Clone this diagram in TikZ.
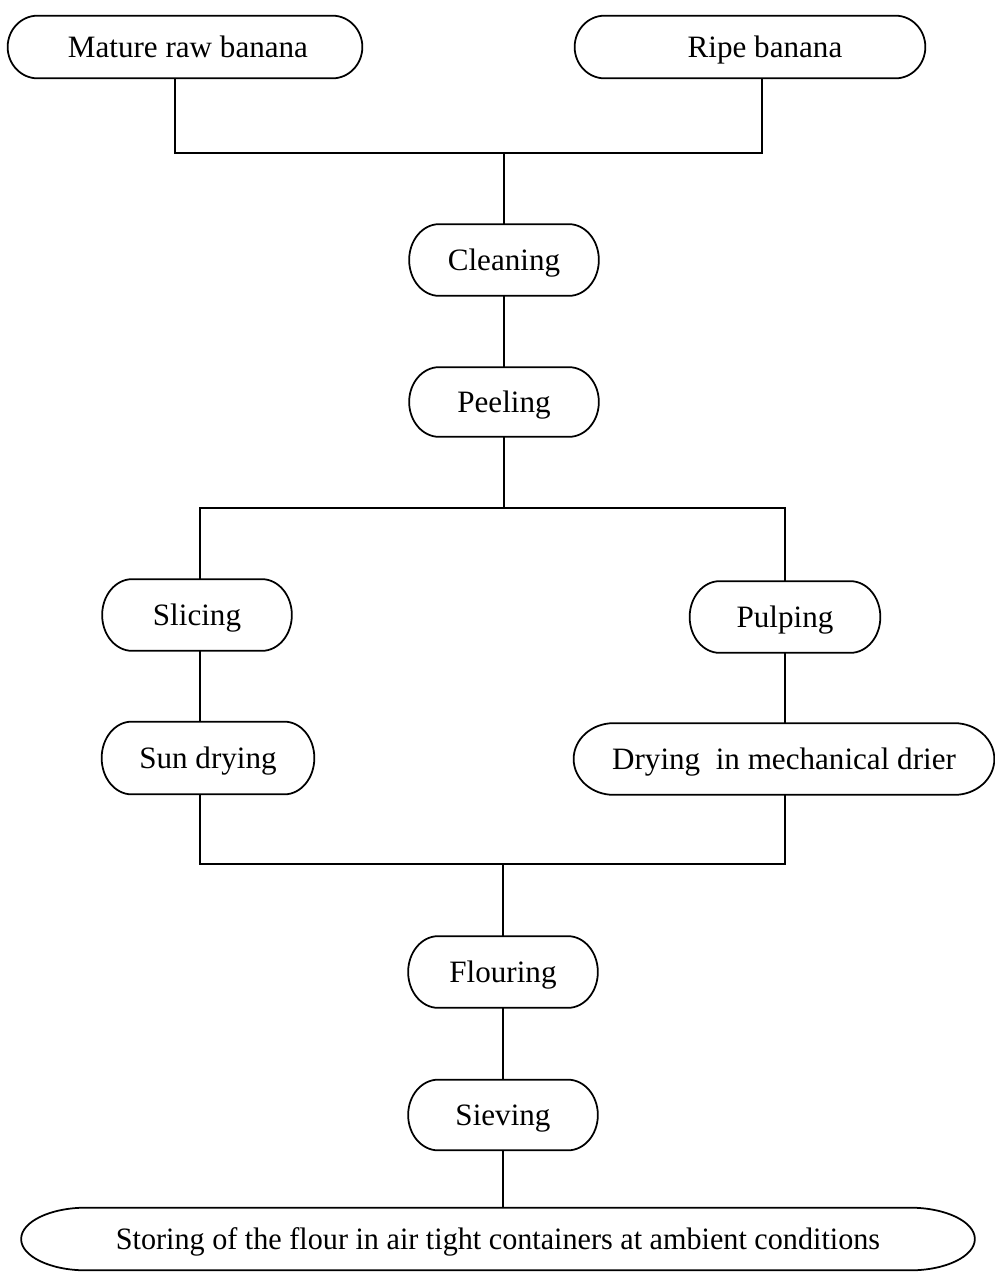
\documentclass[tikz,border=0pt]{standalone}
\usepackage{fontspec}
\setmainfont{Liberation Serif}
\usepackage{tikz}
\usetikzlibrary{calc,positioning}
\tikzset{
    stage/.style={
        rectangle,
        inner sep=0pt,
        text centered,
        text height=14pt,
        text depth=2.5pt,
        minimum width=3.78cm,
        minimum height=1.42cm,
        font={\fontsize{17.7pt}{21pt}\selectfont}
    },
    outline/.style={draw, line width=1pt},
    link/.style={draw, line width=0.9pt},
}
\begin{document}
\begin{tikzpicture}
\useasboundingbox (0,0) rectangle (19.9,-25.48);

% inputs
\node [stage, minimum width=7.08cm, minimum height=1.24cm] (raw) at (3.70,-0.94) {\hspace*{0.12cm}Mature raw banana};
\node [stage, minimum width=7.00cm, minimum height=1.24cm] (ripe) at (15.00,-0.94) {\hspace*{0.6cm}Ripe banana};

% common steps
\node [stage] (clean) at (10.08,-5.20) {Cleaning};
\node [stage, minimum height=1.38cm] (peel) at (10.08,-8.04) {Peeling};

% two routes
\node [stage] (slice) at (3.94,-12.30) {Slicing};
\node [stage, minimum width=4.24cm, minimum height=1.44cm] (sun) at (4.16,-15.16) {Sun drying};
\node [stage, minimum width=3.80cm] (pulp) at (15.70,-12.34) {Pulping};
\node [stage, minimum width=8.40cm] (mech) at (15.68,-15.18) {Drying\ \ in mechanical drier};

% end steps
\node [stage] (flour) at (10.06,-19.44) {Flouring};
\node [stage, minimum height=1.40cm] (sieve) at (10.06,-22.30) {Sieving};
\node [stage, minimum width=19.06cm, minimum height=1.24cm] (store) at (9.96,-24.78)
  {\scalebox{0.97}[1]{Storing of the flour in air tight containers at ambient conditions}};

% outlines with rounded ends
\foreach \nd/\b in {raw/0.6cm, ripe/0.6cm, clean/0.6cm, peel/0.6cm, slice/0.6cm,
    sun/0.6cm, pulp/0.6cm, mech/0.8cm, flour/0.6cm, sieve/0.6cm, store/1.3cm}
  \draw [outline] let \p1=(\nd.north west), \p2=(\nd.south east), \n1={(\y1-\y2)/2} in
    (\x1+\b,\y1) -- (\x2-\b,\y1)
    arc[start angle=90, end angle=-90, x radius=\b, y radius=\n1]
    -- (\x1+\b,\y2)
    arc[start angle=270, end angle=90, x radius=\b, y radius=\n1] -- cycle;

% bus points
\coordinate (top-l) at (3.50,-3.06);
\coordinate (top-r) at (15.24,-3.06);
\coordinate (mid-l) at (4.00,-10.16);
\coordinate (mid-r) at (15.70,-10.16);
\coordinate (bot-l) at (4.00,-17.28);
\coordinate (bot-r) at (15.70,-17.28);

\draw [link] (raw.south -| top-l) -- (top-l) -- (top-r) -- (ripe.south -| top-r);
\draw [link] (clean.north |- top-l) -- (clean.north);
\draw [link] (clean) -- (peel);
\draw [link] (peel.south) -- (peel.south |- mid-l);
\draw [link] (slice.north -| mid-l) -- (mid-l) -- (mid-r) -- (pulp.north -| mid-r);
\draw [link] (slice.south -| mid-l) -- (sun.north -| mid-l);
\draw [link] (pulp.south) -- (pulp.south |- mech.north);
\draw [link] (sun.south -| bot-l) -- (bot-l) -- (bot-r) -- (mech.south -| bot-r);
\draw [link] (flour.north |- bot-l) -- (flour.north);
\draw [link] (flour) -- (sieve);
\draw [link] (sieve.south) -- (sieve.south |- store.north);

\end{tikzpicture}
\end{document}
